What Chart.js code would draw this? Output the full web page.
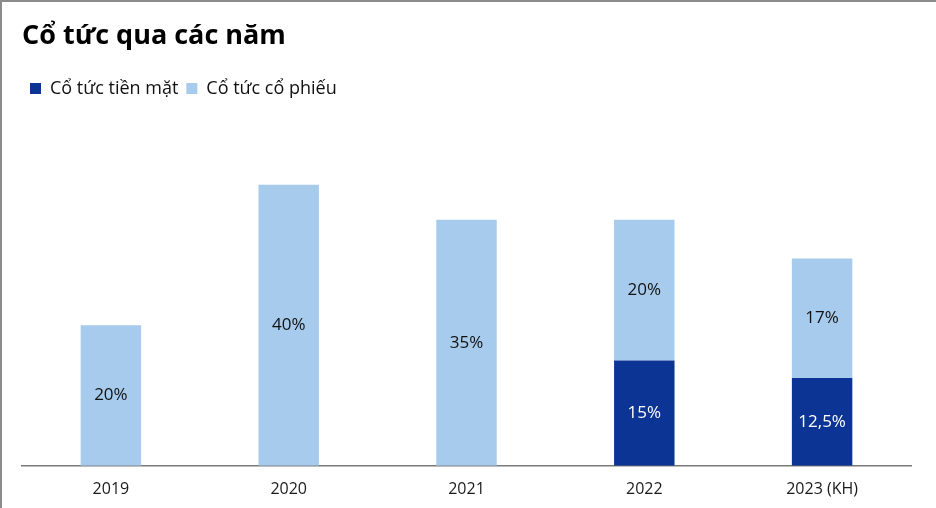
<!DOCTYPE html>
<html>
<head>
<meta charset="utf-8">
<script src="https://cdn.jsdelivr.net/npm/chart.js@4.4.1/dist/chart.umd.min.js"></script>
<style>
  html, body { margin: 0; padding: 0; background: #fff; }
  #wrap {
    width: 934px; height: 506px;
    border-top: 2px solid #8c8c8c;
    border-left: 2px solid #8c8c8c;
    position: relative;
  }
  canvas { display: block; }
</style>
</head>
<body>
<div id="wrap"><canvas id="chart" width="934" height="506"></canvas></div>
<script>
(() => {
  const years = ['2019', '2020', '2021', '2022', '2023 (KH)'];
  const cashDividend = [0, 0, 0, 15, 12.5];
  const stockDividend = [20, 40, 35, 20, 17];
  const cashLabels = ['', '', '', '15%', '12,5%'];
  const stockLabels = ['20%', '40%', '35%', '20%', '17%'];

  const darkBlue = '#0c3494';
  const lightBlue = '#a7cbec';
  const fontFamily = '"Open Sans", "Noto Sans", sans-serif';

  // draws the % text in the middle of each bar piece
  const barText = {
    id: 'barText',
    afterDatasetsDraw(chart) {
      const ctx = chart.ctx;
      chart.data.datasets.forEach((ds, i) => {
        const meta = chart.getDatasetMeta(i);
        meta.data.forEach((bar, j) => {
          const txt = ds.valueText[j];
          if (!txt) return;
          const mid = (bar.y + bar.base) / 2;
          ctx.save();
          ctx.font = '17px ' + fontFamily;
          ctx.fillStyle = ds.textColor;
          ctx.textAlign = 'center';
          ctx.textBaseline = 'middle';
          ctx.fillText(txt, bar.x, mid);
          ctx.restore();
        });
      });
    }
  };

  new Chart(document.getElementById('chart'), {
    type: 'bar',
    data: {
      labels: years,
      datasets: [
        {
          label: 'Cổ tức tiền mặt',
          data: cashDividend,
          valueText: cashLabels,
          textColor: '#ffffff',
          backgroundColor: darkBlue,
          barPercentage: 0.34,
          categoryPercentage: 1
        },
        {
          label: 'Cổ tức cổ phiếu',
          data: stockDividend,
          valueText: stockLabels,
          textColor: '#111111',
          backgroundColor: lightBlue,
          barPercentage: 0.34,
          categoryPercentage: 1
        }
      ]
    },
    options: {
      responsive: false,
      animation: false,
      layout: { padding: { left: 20, right: 25, top: 0, bottom: 3 } },
      plugins: {
        title: {
          display: true,
          text: 'Cổ tức qua các năm',
          align: 'start',
          color: '#000',
          font: { family: fontFamily, size: 27, weight: 'bold' },
          padding: { top: 18, bottom: 19 }
        },
        legend: {
          align: 'start',
          labels: {
            boxWidth: 11,
            boxHeight: 11,
            color: '#111',
            font: { family: fontFamily, size: 18 },
            padding: 8
          }
        },
        tooltip: { enabled: false }
      },
      scales: {
        x: {
          stacked: true,
          grid: { display: false },
          border: { color: '#7a7a7a', width: 1.5 },
          ticks: { color: '#1a1a1a', font: { family: fontFamily, size: 16 }, padding: 6 }
        },
        y: {
          stacked: true,
          display: false,
          min: 0,
          max: 51
        }
      }
    },
    plugins: [barText]
  });
})();
</script>
</body>
</html>
